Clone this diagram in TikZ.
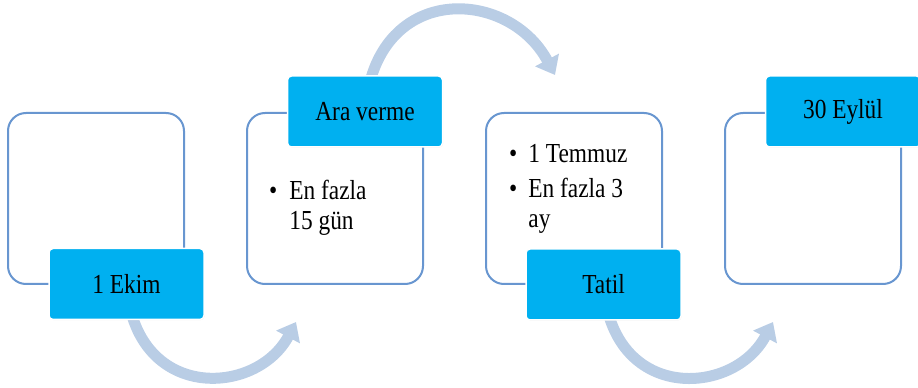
\documentclass[tikz,border=0pt]{standalone}
\usepackage{fontspec}
\setmainfont{Liberation Serif}[FakeStretch=0.85]
\usepackage{tikz}
\usetikzlibrary{arrows.meta, positioning, shadows, backgrounds}

\definecolor{boxline}{RGB}{104,150,208}
\definecolor{tagfill}{RGB}{0,176,240}
\definecolor{flowblue}{RGB}{185,205,229}

\begin{document}
\begin{tikzpicture}[x=1pt,y=1pt,node distance=239pt,on grid,
		font=\fontsize{27.5}{30}\selectfont,
		period/.style={draw=boxline,line width=2pt,fill=white,rounded corners=18pt,minimum width=176pt,minimum height=171pt},
		tag/.style={fill=tagfill,draw=white,line width=1.5pt,rounded corners=4pt,minimum width=155pt,minimum height=71pt,inner sep=0pt,
			drop shadow={opacity=0.2,shadow xshift=0.6pt,shadow yshift=-0.6pt}},
		flow/.style={draw=flowblue,line width=11pt,-{Triangle[width=26pt,length=17pt]}}]
		
		\useasboundingbox (0,0) rectangle (918,388);
		
		\node (p1) [period] at (96,189.5) {};
		\node (p2) [period, right of = p1] {};
		\node (p3) [period, right of = p2] {};
		\node (p4) [period, right of = p3] {};
		
		\node (t1) [tag, below right = 85.5pt and 30.5pt of p1] {1 Ekim};
		\node (t2) [tag, above right = 87pt and 30pt of p2] {Ara verme};
		\node (t3) [tag, below right = 86pt and 29.5pt of p3] {Tatil};
		\node (t4) [tag, above right = 87pt and 30pt of p4] {30 Eylül};
		
		\node (l2) [anchor=base west, inner sep=0pt] at (269,188)
			{\begin{tabular}[t]{@{}l@{\hspace{12pt}}l@{}}\textbullet & En fazla\\ & 15 gün\end{tabular}};
		\node (l3) [anchor=base west, inner sep=0pt] at (509,225)
			{\begin{tabular}[t]{@{}l@{\hspace{11pt}}l@{}}\textbullet & 1 Temmuz\\[5pt] \textbullet & En fazla 3\\ & ay\end{tabular}};
		
		\coordinate (e1) at (296,66);
		\coordinate (e2) at (555,313);
		\coordinate (e3) at (773,66);
		
		\begin{scope}[on background layer]
			\draw [flow] (t1.center) .. controls +(8,-118) and +(-40,-75) .. (e1);
			\draw [flow] (t2.center) .. controls +(10,130) and +(-47,88) .. (e2);
			\draw [flow] (t3.center) .. controls +(8,-118) and +(-40,-75) .. (e3);
		\end{scope}
		
	\end{tikzpicture}
\end{document}
